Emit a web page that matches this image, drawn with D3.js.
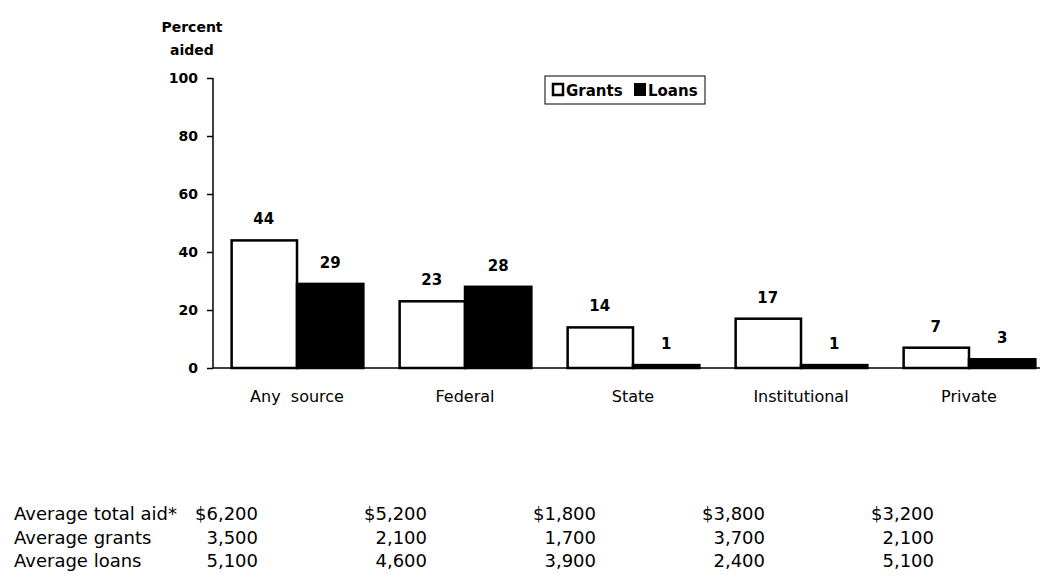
<!DOCTYPE html>
<html><head><meta charset="utf-8">
<script src="https://cdn.jsdelivr.net/npm/d3@7"></script>
<style>
body{margin:0;background:#fff;}
text{font-family:"DejaVu Sans",sans-serif;fill:#000;}
</style></head>
<body><svg id="c" width="1045" height="582"></svg>
<script>
const categories = ["Any  source","Federal","State","Institutional","Private"];
const grants = [44,23,14,17,7];
const loans = [29,28,1,1,3];
const series = ["Grants","Loans"];
const yTicks = [0,20,40,60,80,100];
const tableRows = ["Average total aid*","Average grants","Average loans"];
const avgTotal = ["$6,200","$5,200","$1,800","$3,800","$3,200"];
const avgGrants = ["3,500","2,100","1,700","3,700","2,100"];
const avgLoans = ["5,100","4,600","3,900","2,400","5,100"];

const svg = d3.select("#c");
const y = d3.scaleLinear().domain([0,100]).range([368,78]);
const x = d3.scaleBand().domain(categories).range([213,1053]).paddingInner(0.21).paddingOuter(0.105);
const xs = d3.scaleBand().domain(series).range([0,x.bandwidth()]);

// axes
const yAxis = d3.axisLeft(y).tickValues(yTicks).tickSize(6).tickPadding(9);
const gy = svg.append("g").attr("transform","translate(213,0)").call(yAxis);
gy.select(".domain").attr("stroke","#000").attr("stroke-width",1.5).attr("d","M0,"+y(100)+"V"+y(0));
gy.selectAll(".tick line").attr("stroke","#000").attr("stroke-width",1.5);
gy.selectAll(".tick text").attr("font-family",null).attr("font-size",null).style("font-size","14px").style("font-weight","bold");

svg.append("line").attr("x1",213).attr("x2",1040).attr("y1",y(0)).attr("y2",y(0)).attr("stroke","#000").attr("stroke-width",1.5);

svg.append("text").attr("x",192).attr("y",32).attr("text-anchor","middle").style("font-size","14px").style("font-weight","bold").text("Percent");
svg.append("text").attr("x",192).attr("y",55).attr("text-anchor","middle").style("font-size","14px").style("font-weight","bold").text("aided");

const data = categories.map((c,i)=>({c, vals:[{s:"Grants",v:grants[i]},{s:"Loans",v:loans[i]}]}));
const g = svg.append("g").selectAll("g").data(data).join("g").attr("transform",d=>`translate(${x(d.c)},0)`);
g.selectAll("rect").data(d=>d.vals).join("rect")
  .attr("x",d=>xs(d.s)+(d.s==="Grants"?1:0))
  .attr("y",d=>y(d.v))
  .attr("width",d=>xs.bandwidth()-(d.s==="Grants"?1:0))
  .attr("height",d=>y(0)-y(d.v))
  .attr("fill",d=>d.s==="Grants"?"#fff":"#000")
  .attr("stroke","#000").attr("stroke-width",2.5);
g.selectAll("text.v").data(d=>d.vals).join("text").attr("class","v")
  .attr("x",d=>xs(d.s)+xs.bandwidth()/2)
  .attr("y",d=>y(d.v)-16)
  .attr("text-anchor","middle").style("font-size","15px").style("font-weight","bold")
  .text(d=>d.v);

svg.append("g").selectAll("text").data(categories).join("text")
  .attr("x",d=>x(d)+x.bandwidth()/2).attr("y",402).attr("text-anchor","middle")
  .style("font-size","16px").style("white-space","pre").attr("xml:space","preserve").text(d=>d);

// legend
const lg = svg.append("g");
lg.append("rect").attr("x",545).attr("y",76).attr("width",160).attr("height",28).attr("fill","#fff").attr("stroke","#000").attr("stroke-width",1);
lg.append("rect").attr("x",553).attr("y",84).attr("width",10).attr("height",11).attr("fill","#fff").attr("stroke","#000").attr("stroke-width",2.5);
lg.append("text").attr("x",566).attr("y",96).style("font-size","15px").style("font-weight","bold").text(series[0]);
lg.append("rect").attr("x",634).attr("y",83).attr("width",12).attr("height",13).attr("fill","#000");
lg.append("text").attr("x",648).attr("y",96).style("font-size","15px").style("font-weight","bold").text(series[1]);

// table
const rowsVals = [avgTotal, avgGrants, avgLoans];
const rowY = [520,544,567];
const colRight = [258,427,596,765,934];
tableRows.forEach((r,i)=>{
  svg.append("text").attr("x",14).attr("y",rowY[i]).style("font-size","18px").text(r);
  svg.append("g").selectAll("text").data(rowsVals[i]).join("text")
    .attr("x",(d,j)=>colRight[j]).attr("y",rowY[i]).attr("text-anchor","end").style("font-size","18px").text(d=>d);
});
</script></body></html>
